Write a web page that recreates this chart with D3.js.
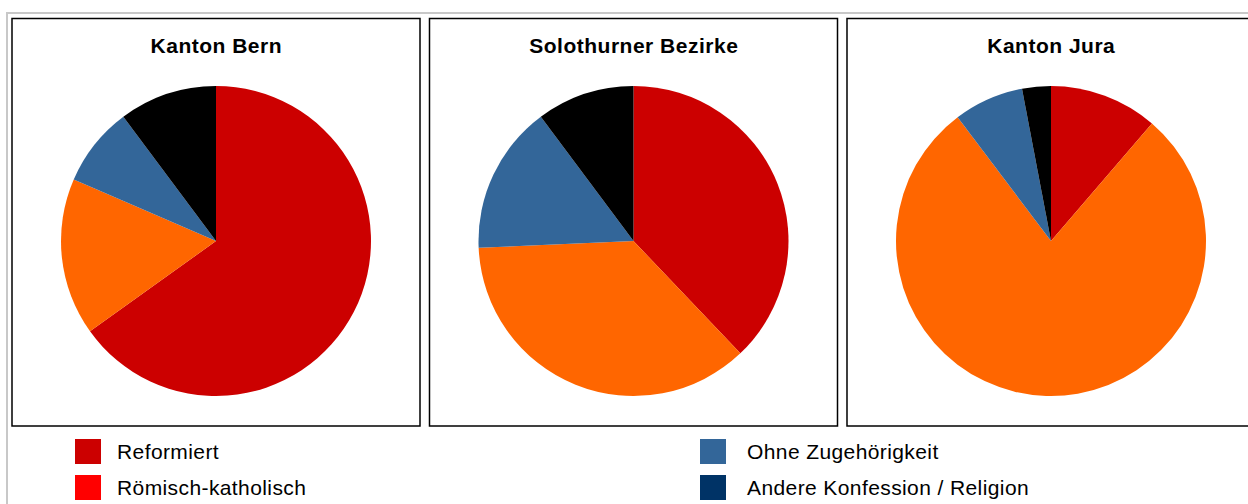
<!DOCTYPE html>
<html>
<head>
<meta charset="utf-8">
<script src="https://cdn.jsdelivr.net/npm/d3@7"></script>
<style>
  body { margin: 0; background: #fff; }
  svg { display: block; font-family: "Liberation Sans", Arial, sans-serif; }
</style>
</head>
<body>
<div id="chart"></div>
<script>
// regions (one pie each)
const regions = ['Kanton Bern', 'Solothurner Bezirke', 'Kanton Jura'];

// shares in percent
const reformiert = [65.1, 37.9, 11.3];
const katholisch = [16.4, 36.4, 78.5];
const ohne = [8.3, 15.5, 7.3];
const andere = [10.2, 10.2, 3.0];

const pieColors = ['#cc0000', '#ff6600', '#336699', '#000000'];

// legend entries (as shown)
const legendLabels = ['Reformiert', 'Römisch-katholisch', 'Ohne Zugehörigkeit', 'Andere Konfession / Religion'];
const legendColors = ['#cc0000', '#ff0000', '#336699', '#003366'];

const width = 1248;
const height = 504;

const svg = d3.select('#chart').append('svg')
    .attr('width', width)
    .attr('height', height);

// outer grey frame
svg.append('rect')
    .attr('x', 7)
    .attr('y', 13)
    .attr('width', width + 20)
    .attr('height', height + 20)
    .attr('fill', 'none')
    .attr('stroke', '#c8c8c8')
    .attr('stroke-width', 2);

const x = d3.scaleBand()
    .domain(regions)
    .range([12, 1255])
    .paddingInner(0.02275);

const panelTop = 18.5;
const panelH = 407.5;
const radius = 155;
const cy = 241;

const pie = d3.pie().sort(null).value(d => d);
const arc = d3.arc().innerRadius(0).outerRadius(radius);

regions.forEach((r, i) => {
    const g = svg.append('g')
        .attr('transform', `translate(${x(r)}, 0)`);

    g.append('rect')
        .attr('x', 0)
        .attr('y', panelTop)
        .attr('width', x.bandwidth())
        .attr('height', panelH)
        .attr('fill', 'none')
        .attr('stroke', '#000')
        .attr('stroke-width', 1.5);

    // title, slightly spaced to match the wider original font
    g.append('text')
        .attr('x', x.bandwidth() / 2 + 0.3)
        .attr('y', 52.5)
        .attr('text-anchor', 'middle')
        .attr('font-size', '21px')
        .attr('font-weight', 'bold')
        .attr('letter-spacing', '0.5px')
        .text(r);

    const vals = [reformiert[i], katholisch[i], ohne[i], andere[i]];

    g.append('g')
        .attr('transform', `translate(${x.bandwidth() / 2}, ${cy})`)
        .selectAll('path')
        .data(pie(vals))
        .join('path')
            .attr('d', arc)
            .attr('fill', (d, j) => pieColors[j]);
});

// legend, two columns
const legend = svg.append('g');
const colX = [75, 700];
const textX = [117, 747];
const rowY = [439, 475];

legend.selectAll('rect')
    .data(legendLabels)
    .join('rect')
        .attr('x', (d, i) => colX[Math.floor(i / 2)])
        .attr('y', (d, i) => rowY[i % 2])
        .attr('width', 26)
        .attr('height', 25)
        .attr('fill', (d, i) => legendColors[i]);

legend.selectAll('text')
    .data(legendLabels)
    .join('text')
        .attr('x', (d, i) => textX[Math.floor(i / 2)])
        .attr('y', (d, i) => rowY[i % 2] + 20)
        .attr('font-size', '21px')
        .attr('letter-spacing', '0.4px')
        .text(d => d);
</script>
</body>
</html>
